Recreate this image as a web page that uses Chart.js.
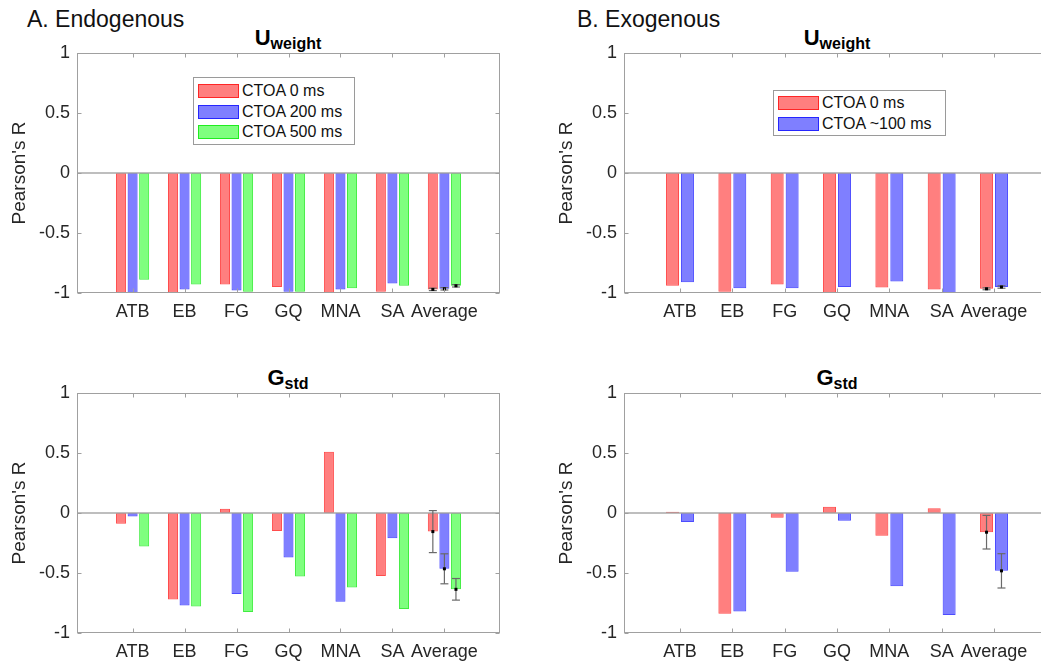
<!DOCTYPE html>
<html><head><meta charset="utf-8">
<script src="https://cdn.jsdelivr.net/npm/chart.js@4.4.0/dist/chart.umd.min.js"></script>
<style>
html,body{margin:0;padding:0;background:#fff;}
#fig{position:relative;width:1041px;height:661px;overflow:hidden;font-family:"Liberation Sans",Arial,sans-serif;color:#000;}
canvas{position:absolute;}
.panel{position:absolute;font-size:23px;line-height:26px;white-space:nowrap;color:#111;}
.ttl{position:absolute;width:200px;text-align:center;font-weight:bold;font-size:22px;line-height:24px;white-space:nowrap;color:#000;}
.ttl span{font-size:16px;position:relative;top:4px;}
.leg{position:absolute;border:1px solid #9a9a9a;background:#fff;font-size:16px;color:#111;}
.leg .row{position:absolute;left:4px;height:20px;white-space:nowrap;}
.leg .sw{position:absolute;left:0;top:3px;width:41px;height:14px;box-sizing:border-box;border:1px solid;}
.leg .tx{position:absolute;left:44px;top:0;line-height:20px;}
</style></head><body>
<div id="fig">
  <div class="panel" style="left:27px;top:6px;">A. Endogenous</div>
  <div class="panel" style="left:577px;top:6px;">B. Exogenous</div>
  <div class="ttl" style="left:188px;top:26px;">U<span>weight</span></div>
  <div class="ttl" style="left:737px;top:26px;">U<span>weight</span></div>
  <div class="ttl" style="left:188px;top:366px;">G<span>std</span></div>
  <div class="ttl" style="left:737px;top:366px;">G<span>std</span></div>
  <canvas id="c1" width="520" height="300" style="left:0;top:30px;"></canvas>
  <canvas id="c2" width="540" height="300" style="left:520px;top:30px;"></canvas>
  <canvas id="c3" width="520" height="300" style="left:0;top:370px;"></canvas>
  <canvas id="c4" width="540" height="300" style="left:520px;top:370px;"></canvas>
  <div class="leg" id="leg1" style="left:193px;top:77px;width:160px;height:66px;"></div>
  <div class="leg" id="leg2" style="left:773px;top:90px;width:171px;height:44px;"></div>
</div>
<script>
// ---- data ----
const categories = ['ATB','EB','FG','GQ','MNA','SA','Average'];
const endoLabels = ['CTOA 0 ms','CTOA 200 ms','CTOA 500 ms'];
const exoLabels  = ['CTOA 0 ms','CTOA ~100 ms'];
const yTicks = [-1, -0.5, 0, 0.5, 1];

// A. Endogenous, U_weight
const endoU_0   = [-1.00, -0.997, -0.93, -0.95, -1.00, -0.99, -0.97];
const endoU_200 = [-1.00, -0.97, -0.98, -0.99, -0.97, -0.92, -0.965];
const endoU_500 = [-0.89, -0.93, -0.99, -0.99, -0.96, -0.94, -0.94];
const endoU_err = [0.01, 0.01, 0.01];
// B. Exogenous, U_weight
const exoU_0   = [-0.94, -0.99, -0.93, -1.00, -0.955, -0.97, -0.965];
const exoU_100 = [-0.91, -0.96, -0.96, -0.95, -0.905, -1.00, -0.95];
const exoU_err = [0.008, 0.01];
// A. Endogenous, G_std
const endoG_0   = [-0.09, -0.72, 0.036, -0.15, 0.51, -0.525, -0.155];
const endoG_200 = [-0.03, -0.77, -0.675, -0.37, -0.74, -0.21, -0.465];
const endoG_500 = [-0.28, -0.78, -0.825, -0.53, -0.62, -0.80, -0.636];
const endoG_err = [0.175, 0.125, 0.09];
// B. Exogenous, G_std
const exoG_0   = [0.011, -0.84, -0.04, 0.053, -0.19, 0.04, -0.16];
const exoG_100 = [-0.075, -0.82, -0.49, -0.065, -0.61, -0.85, -0.482];
const exoG_err = [0.14, 0.143];

// ---- styles ----
const fills = ['rgba(255,0,0,0.5)','rgba(0,0,255,0.5)','rgba(0,255,0,0.5)'];
const edges = ['rgba(255,0,0,0.7)','rgba(0,0,255,0.7)','rgba(0,230,0,0.75)'];
const FONT = '"Liberation Sans", Arial, sans-serif';
const TXT = '#262626';

const boxPlugin = {
  id: 'boxPlugin',
  afterDatasetsDraw(chart, args, opts) {
    const {ctx, chartArea: a, scales: {x, y}} = chart;
    const line = (x1, y1, x2, y2) => { ctx.beginPath(); ctx.moveTo(x1, y1); ctx.lineTo(x2, y2); ctx.stroke(); };
    ctx.save();
    const y0 = y.getPixelForValue(0);
    ctx.strokeStyle = '#a9a9a9'; ctx.lineWidth = 1.5;
    line(a.left, y0, a.right, y0);
    const idx = categories.length - 1;
    chart.data.datasets.forEach((ds, di) => {
      const meta = chart.getDatasetMeta(di);
      const bar = meta.data[idx];
      const v = ds.data[idx].y;
      const e = opts.errors[di];
      const cx = bar.x;
      const yt = y.getPixelForValue(v + e), yb = y.getPixelForValue(v - e);
      ctx.strokeStyle = '#6a6a6a'; ctx.lineWidth = 1.2;
      line(cx, yt, cx, yb);
      line(cx - 4, yt, cx + 4, yt);
      line(cx - 4, yb, cx + 4, yb);
      ctx.fillStyle = '#000';
      ctx.fillRect(cx - 1.5, y.getPixelForValue(v) - 1.5, 3, 3);
    });
    ctx.strokeStyle = '#a0a0a0'; ctx.lineWidth = 1;
    const L = Math.round(a.left) + 0.5, R = Math.round(a.right) - 0.5;
    const T = Math.round(a.top) + 0.5, B = Math.round(a.bottom) - 0.5;
    ctx.strokeRect(L, T, R - L, B - T);
    for (let i = 1; i <= categories.length; i++) {
      const px = Math.round(x.getPixelForValue(i)) + 0.5;
      line(px, B, px, B - 4);
      line(px, T, px, T + 4);
    }
    yTicks.forEach(v => {
      const py = Math.round(y.getPixelForValue(v)) + 0.5;
      line(L, py, L + 4, py);
      line(R, py, R - 4, py);
    });
    ctx.restore();
  }
};

function makeChart(id, series, labels, errors, yAxisWidth, padRight, titlePadTop, catPct) {
  const datasets = series.map((vals, i) => ({
    label: labels[i],
    data: vals.map((v, k) => ({x: k + 1, y: v})),
    backgroundColor: fills[i],
    borderColor: edges[i],
    borderWidth: 1,
    borderSkipped: false,
    categoryPercentage: catPct,
    barPercentage: 0.87
  }));
  return new Chart(document.getElementById(id), {
    type: 'bar',
    data: {datasets},
    plugins: [boxPlugin],
    options: {
      responsive: false,
      animation: false,
      devicePixelRatio: 1,
      layout: {padding: {top: 23, right: padRight, left: 0, bottom: 0}},
      plugins: {
        legend: {display: false},
        tooltip: {enabled: false},
        boxPlugin: {errors}
      },
      scales: {
        x: {
          type: 'linear',
          min: -0.07, max: 8.07,
          offset: false,
          grid: {display: false, drawTicks: false, offset: false},
          border: {display: false},
          afterFit: s => { s.height = 37; },
          ticks: {
            stepSize: 1, includeBounds: false, autoSkip: false, maxRotation: 0,
            padding: 8, color: TXT, font: {family: FONT, size: 18},
            callback: v => (v >= 1 && v <= categories.length && Number.isInteger(v)) ? categories[v - 1] : ''
          }
        },
        y: {
          min: -1, max: 1,
          grid: {display: false, drawTicks: false},
          border: {display: false},
          afterFit: s => { s.width = yAxisWidth; },
          afterBuildTicks: s => { s.ticks = yTicks.map(v => ({value: v})); },
          ticks: {padding: 7, color: TXT, font: {family: FONT, size: 18}, callback: v => String(v)},
          title: {display: true, text: "Pearson's R", color: TXT, font: {family: FONT, size: 19}, padding: {top: titlePadTop, bottom: 0}}
        }
      }
    }
  });
}

makeChart('c1', [endoU_0, endoU_200, endoU_500], endoLabels, endoU_err, 77, 20, 8.6, 0.667);
makeChart('c2', [exoU_0, exoU_100], exoLabels, exoU_err, 104, 10, 35.6, 0.571);
makeChart('c3', [endoG_0, endoG_200, endoG_500], endoLabels, endoG_err, 77, 20, 8.6, 0.667);
makeChart('c4', [exoG_0, exoG_100], exoLabels, exoG_err, 104, 10, 35.6, 0.571);

function buildLegend(id, labels, top0) {
  const el = document.getElementById(id);
  labels.forEach((t, i) => {
    const row = document.createElement('div');
    row.className = 'row';
    row.style.top = (top0 + i * 20.5) + 'px';
    const sw = document.createElement('div');
    sw.className = 'sw';
    sw.style.background = fills[i];
    sw.style.borderColor = edges[i];
    const tx = document.createElement('div');
    tx.className = 'tx';
    tx.textContent = t;
    row.appendChild(sw); row.appendChild(tx);
    el.appendChild(row);
  });
}
buildLegend('leg1', endoLabels, 3);
buildLegend('leg2', exoLabels, 2);
</script>
</body></html>
